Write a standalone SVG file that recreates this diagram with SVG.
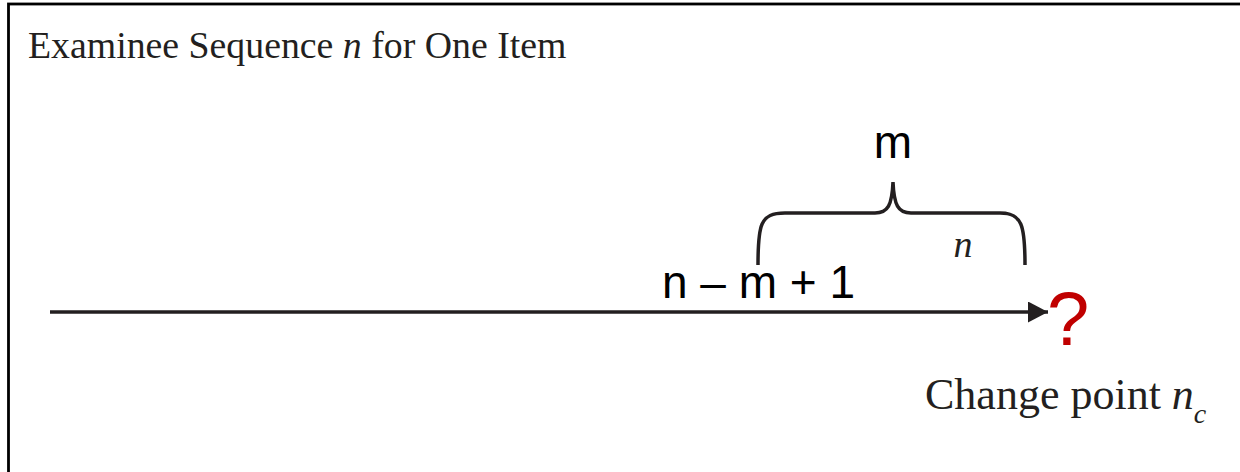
<svg xmlns="http://www.w3.org/2000/svg" width="1240" height="472" viewBox="0 0 1240 472">
<style>
.serif{font-family:"Liberation Serif","Times New Roman",serif;fill:#231f20}
.sans{font-family:"Liberation Sans",Arial,sans-serif;fill:#000}
.stroke{fill:none;stroke:#231f20;stroke-width:3.5}
</style>
<defs>
<marker id="arr" markerWidth="20" markerHeight="21" refX="20" refY="10.5" orient="auto" markerUnits="userSpaceOnUse">
<path d="M0,0 L20,10.5 L0,21 Z" fill="#231f20"/>
</marker>
</defs>
<rect x="0" y="0" width="1240" height="472" fill="#fff"/>
<rect x="8.5" y="4" width="1260" height="500" fill="none" stroke="#000" stroke-width="2.8"/>
<g id="title"><text class="serif" x="28" y="58" font-size="37.8">Examinee Sequence <tspan font-style="italic">n</tspan> for One Item</text></g>
<g id="connectors">
<line class="stroke" x1="50" y1="312" x2="1048" y2="312" marker-end="url(#arr)"/>
<path class="stroke" stroke-width="3" d="M758,265 C758,225 760,213 785,213 L875,213 C888,213 892,205 893,182 C894,205 898,213 911,213 L1000,213 C1022,213 1025,225 1025,265"/>
</g>
<g id="label-m"><text class="sans" x="893" y="158" font-size="46" text-anchor="middle">m</text></g>
<g id="label-nm1"><text class="sans" x="662" y="298" font-size="46">n – m + 1</text></g>
<g id="label-n"><text class="serif" x="963" y="257" font-size="38" font-style="italic" text-anchor="middle">n</text></g>
<g id="question"><text class="sans" x="1047" y="345" font-size="76" style="fill:#c00000">?</text></g>
<g id="change-point"><text class="serif" x="925" y="409" font-size="44">Change point <tspan font-style="italic">n</tspan><tspan font-style="italic" font-size="28" dy="14">c</tspan></text></g>
</svg>
